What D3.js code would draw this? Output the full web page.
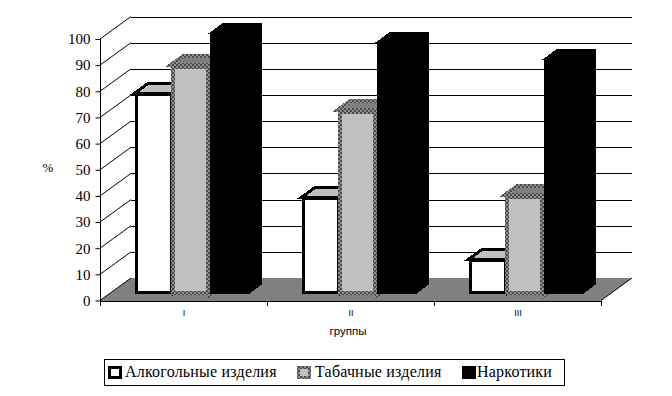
<!DOCTYPE html>
<html>
<head>
<meta charset="utf-8">
<script src="https://cdn.jsdelivr.net/npm/d3@7"></script>
<style>
  html, body { margin: 0; padding: 0; background: #fff; }
  svg { display: block; }
  .serif { font-family: "Liberation Serif", serif; fill: #000; }
  .sans { font-family: "Liberation Sans", sans-serif; fill: #000; }
</style>
</head>
<body>
<div class="canvas"></div>
<script>
/*---------------------------
  DATA
---------------------------*/
const groups = ['I', 'II', 'III'];
const seriesNames = ['Алкогольные изделия', 'Табачные изделия', 'Наркотики'];
const alcohol = [77, 37, 13.5];
const tobacco = [87.7, 70.5, 38];
const drugs = [100, 96.5, 90];
const yTicks = [0, 10, 20, 30, 40, 50, 60, 70, 80, 90, 100];

/*---------------------------
  VARIABLES
---------------------------*/
const dims = { width: 672, height: 396 };
const plot = { left: 100, right: 601, top: 39, bottom: 300.5 };
const wall = { dx: 31, dy: -22.5 };
const bar = { inset: 35, width: 37.5, dx: 13, dy: -9.5, baseDy: -6.5 };

const svg = d3.select('.canvas')
  .append('svg')
  .attr('width', dims.width)
  .attr('height', dims.height);

// dithered border of the tobacco bars
const dither = svg.append('defs').append('pattern')
  .attr('id', 'dither')
  .attr('patternUnits', 'userSpaceOnUse')
  .attr('width', 4)
  .attr('height', 4);
dither.append('rect').attr('width', 4).attr('height', 4).attr('fill', '#8e8e8e');
dither.append('rect').attr('width', 2).attr('height', 2).attr('fill', '#4c4c4c');
dither.append('rect').attr('x', 2).attr('y', 2).attr('width', 2).attr('height', 2).attr('fill', '#4c4c4c');

const x = d3.scaleBand()
  .domain(groups)
  .range([plot.left, plot.right]);

const y = d3.scaleLinear()
  .domain([0, 100])
  .range([plot.bottom, plot.top]);

// bars stand a little in front of the back wall, height scale is the same
const barY = d3.scaleLinear()
  .domain([0, 100])
  .range([plot.bottom + bar.baseDy, plot.top + bar.baseDy]);

const seriesX = d3.scaleBand()
  .domain(seriesNames)
  .range([0, bar.width * 3]);

const styles = [
  { front: '#fff', top: '#c0c0c0', side: '#c0c0c0', stroke: '#000', sw: 3, out: 0 },
  { front: '#c0c0c0', top: '#808080', side: '#808080', stroke: 'url(#dither)', sw: 4, out: 2 },
  { front: '#000', top: '#000', side: '#000', stroke: '#000', sw: 1, out: 0 }
];

const chart = svg.append('g').attr('shape-rendering', 'crispEdges');

// floor
chart.append('polygon')
  .attr('fill', '#808080')
  .attr('points', [
    [plot.left, plot.bottom],
    [plot.right, plot.bottom],
    [plot.right + wall.dx, plot.bottom + wall.dy],
    [plot.left + wall.dx, plot.bottom + wall.dy]
  ].join(' '));

// back wall grid lines
chart.append('g')
  .selectAll('line')
  .data(yTicks.filter(d => d > 0))
  .enter()
  .append('line')
  .attr('x1', plot.left + wall.dx)
  .attr('x2', plot.right + wall.dx)
  .attr('y1', d => Math.round(y(d) + wall.dy) + 0.5)
  .attr('y2', d => Math.round(y(d) + wall.dy) + 0.5)
  .attr('stroke', '#000');

// left wall diagonals
svg.append('g')
  .selectAll('line')
  .data(yTicks)
  .enter()
  .append('line')
  .attr('x1', plot.left)
  .attr('x2', plot.left + wall.dx)
  .attr('y1', d => y(d))
  .attr('y2', d => y(d) + wall.dy)
  .attr('stroke', '#000');

// right floor edge
svg.append('line')
  .attr('x1', plot.right)
  .attr('x2', plot.right + wall.dx)
  .attr('y1', plot.bottom)
  .attr('y2', plot.bottom + wall.dy)
  .attr('stroke', '#000');

// bars
const drawBar = (group, name, value, s) => {
  const x0 = Math.round(x(group) + bar.inset + seriesX(name)) - s.out;
  const x1 = Math.round(x(group) + bar.inset + seriesX(name) + seriesX.bandwidth());
  const yTop = Math.round(barY(value));
  const yBase = Math.round(barY(0)) + s.out / 2;
  const g = chart.append('g');
  const inner = s.sw / 2;

  const top = [[x0, yTop], [x0 + bar.dx, yTop + bar.dy], [x1 + bar.dx, yTop + bar.dy], [x1, yTop]];
  const side = [[x1, yTop], [x1 + bar.dx, yTop + bar.dy], [x1 + bar.dx, yBase + bar.dy], [x1, yBase]];

  [[side, s.side], [top, s.top]].forEach(([pts, fill]) => {
    g.append('polygon')
      .attr('points', pts.join(' '))
      .attr('fill', fill)
      .attr('stroke', s.stroke)
      .attr('stroke-width', s.sw);
  });

  g.append('rect')
    .attr('x', x0 + inner)
    .attr('y', yTop + inner)
    .attr('width', x1 - x0 - inner * 2)
    .attr('height', yBase - yTop - inner * 2)
    .attr('fill', s.front)
    .attr('stroke', s.stroke)
    .attr('stroke-width', s.sw);
};

[alcohol, tobacco, drugs].forEach((values, i) => {
  values.forEach((v, j) => drawBar(groups[j], seriesNames[i], v, styles[i]));
});

// y axis
const yAxis = d3.axisLeft(y)
  .tickValues(yTicks)
  .tickSize(5)
  .tickPadding(5);

const yG = svg.append('g')
  .attr('transform', `translate(${plot.left + 0.5}, 0)`)
  .call(yAxis);
yG.selectAll('text')
  .style('font-family', '"Liberation Serif", serif')
  .style('font-size', '15px')
  .style('fill', '#000');
yG.select('.domain').attr('stroke', '#000').attr('d', `M0,${plot.top}V${plot.bottom}`);

// x axis
const xAxis = d3.axisBottom(d3.scalePoint().domain(groups).range([
  x('I') + x.bandwidth() / 2, x('III') + x.bandwidth() / 2
])).tickSize(0).tickPadding(8);

const xG = svg.append('g')
  .attr('transform', `translate(0, ${Math.round(plot.bottom) + 0.5})`)
  .call(xAxis);
xG.selectAll('text')
  .attr('class', 'sans')
  .style('font-size', '9px');
xG.select('.domain').remove();

svg.append('line')
  .attr('x1', plot.left).attr('x2', plot.right + 1)
  .attr('y1', Math.round(plot.bottom) + 0.5).attr('y2', Math.round(plot.bottom) + 0.5)
  .attr('stroke', '#000')
  .attr('shape-rendering', 'crispEdges');

svg.append('g')
  .selectAll('line')
  .data(groups.concat(['end']))
  .enter()
  .append('line')
  .attr('x1', d => (d === 'end' ? plot.right : x(d)) + 0.5)
  .attr('x2', d => (d === 'end' ? plot.right : x(d)) + 0.5)
  .attr('y1', Math.round(plot.bottom))
  .attr('y2', Math.round(plot.bottom) + 5)
  .attr('stroke', '#000')
  .attr('shape-rendering', 'crispEdges');

// axis titles
svg.append('text')
  .attr('class', 'sans')
  .attr('x', 348).attr('y', 335)
  .attr('text-anchor', 'middle')
  .style('font-size', '11.5px')
  .text('группы');

svg.append('text')
  .attr('class', 'serif')
  .attr('x', 48).attr('y', 172)
  .attr('text-anchor', 'middle')
  .style('font-size', '13px')
  .text('%');

// legend
const legend = svg.append('g');
legend.append('rect')
  .attr('x', 104.5).attr('y', 359.5)
  .attr('width', 460).attr('height', 26)
  .attr('fill', '#fff')
  .attr('stroke', '#000')
  .attr('shape-rendering', 'crispEdges');

const legendX = [108, 297, 462];
const legendTextX = [125, 315, 477];
const legendFill = ['#fff', '#c0c0c0', '#000'];
const legendStroke = ['#000', 'url(#dither)', '#000'];

const items = legend.selectAll('g.item')
  .data(seriesNames)
  .enter()
  .append('g')
  .attr('class', 'item');

items.append('rect')
  .attr('x', (d, i) => legendX[i] + 1.5).attr('y', 367.5)
  .attr('width', 11).attr('height', 10)
  .attr('fill', (d, i) => legendFill[i])
  .attr('stroke', (d, i) => legendStroke[i])
  .attr('stroke-width', 3)
  .attr('shape-rendering', 'crispEdges');

items.append('text')
  .attr('class', 'serif')
  .attr('x', (d, i) => legendTextX[i]).attr('y', 377)
  .style('font-size', '16px')
  .style('letter-spacing', '0.2px')
  .text(d => d);
</script>
</body>
</html>
